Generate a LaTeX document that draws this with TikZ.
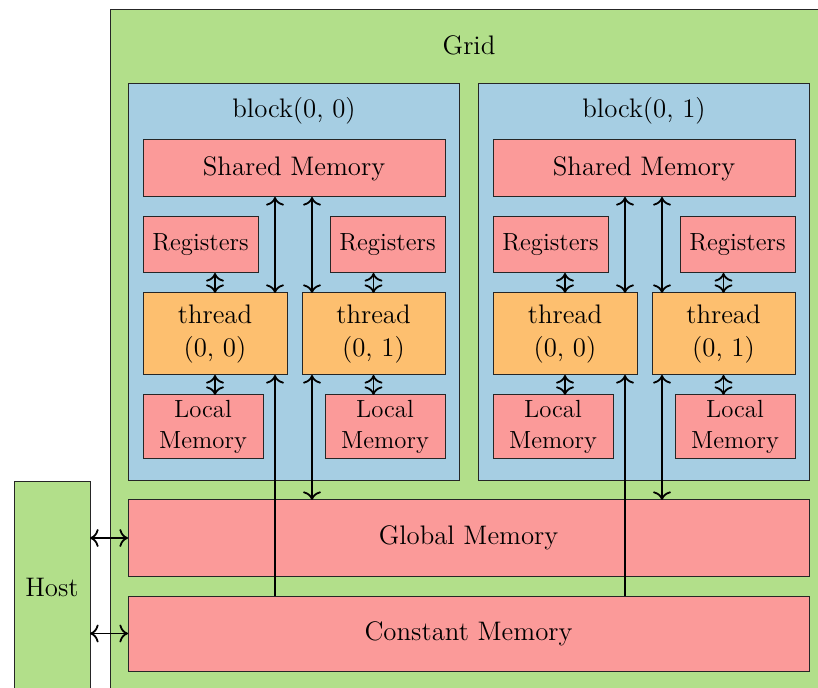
\documentclass[tikz,border=0pt]{standalone}
\usetikzlibrary{calc,arrows.meta}
\definecolor{gridgreen}{RGB}{178,223,138}
\definecolor{blockblue}{RGB}{166,206,227}
\definecolor{memred}{RGB}{251,154,153}
\definecolor{threadorange}{RGB}{253,191,111}
\begin{document}
\begin{tikzpicture}[x=0.5pt,y=-0.5pt,
  box/.style={draw=black!85, line width=0.5pt, inner sep=0pt, outer sep=0pt, align=center},
  sz/.style 2 args={minimum width=#1*0.5pt, minimum height=#2*0.5pt},
  bigtxt/.style={font=\fontsize{13.4}{16.5}\selectfont},
  smalltxt/.style={font=\fontsize{12.4}{15.5}\selectfont},
  link/.style={>={To[scale=1.2]}, line width=0.9pt},
]
\useasboundingbox (0,0) rectangle (818,688);
\clip (0,0) rectangle (818,688);

% the grid
\node[box, fill=gridgreen, sz={718}{682}, anchor=north west] (grid) at (110,10) {};
\node[bigtxt] (gridlabel) at (469,45) {Grid};

% global and constant memory
\node[box, fill=memred, sz={681}{76}, bigtxt] (gm) at (468.5,538) {Global Memory};
\node[box, fill=memred, sz={681}{75}, bigtxt] (cm) at (468.5,633.5) {Constant Memory};

% host
\node[box, fill=gridgreen, sz={76}{210}, anchor=north west, bigtxt] (host) at (14,482) {Host};
\draw[link,<->] (host.east |- gm.west) -- (gm.west);
\draw[link,<->] (host.east |- cm.west) -- (cm.west);

% blocks
\foreach \b/\dx in {0/0,1/350}{
  \node[box, fill=blockblue, sz={331}{397}] (blk\b) at (293.5+\dx,282.5) {};
  \node[bigtxt] (blklabel\b) at (294+\dx,111) {block(0, \b)};
  \node[box, fill=memred, sz={302}{57}, bigtxt] (sm\b) at (294+\dx,168.5) {Shared Memory};
  \node[box, fill=memred, sz={115}{56}, smalltxt] (rl\b) at (200.5+\dx,245) {Registers};
  \node[box, fill=memred, sz={115}{56}, smalltxt] (rr\b) at (387.5+\dx,245) {Registers};
  \node[box, fill=threadorange, sz={144}{82}, bigtxt] (tl\b) at (215+\dx,334) {thread\\(0, 0)};
  \node[box, fill=threadorange, sz={143}{82}, bigtxt] (tr\b) at (373.5+\dx,334) {thread\\(0, 1)};
  \node[box, fill=memred, sz={120}{64}, smalltxt] (ll\b) at (203+\dx,427) {Local\\Memory};
  \node[box, fill=memred, sz={120}{64}, smalltxt] (lr\b) at (385+\dx,427) {Local\\Memory};

  \coordinate (sL\b) at ($(tl\b.north east)+(-12,0)$);
  \coordinate (sR\b) at ($(tr\b.north west)+(10,0)$);

  % registers and local memory
  \draw[link,<->] (tl\b.north) -- (tl\b.north |- rl\b.south);
  \draw[link,<->] (tr\b.north) -- (tr\b.north |- rr\b.south);
  \draw[link,<->] (tl\b.south) -- (tl\b.south |- ll\b.north);
  \draw[link,<->] (tr\b.south) -- (tr\b.south |- lr\b.north);
  % shared memory
  \draw[link,<->] (sL\b) -- (sL\b |- sm\b.south);
  \draw[link,<->] (sR\b) -- (sR\b |- sm\b.south);
  % constant and global memory
  \draw[link,->] (cm.north -| sL\b) -- (tl\b.south -| sL\b);
  \draw[link,<->] (tr\b.south -| sR\b) -- (gm.north -| sR\b);
}
\end{tikzpicture}
\end{document}
